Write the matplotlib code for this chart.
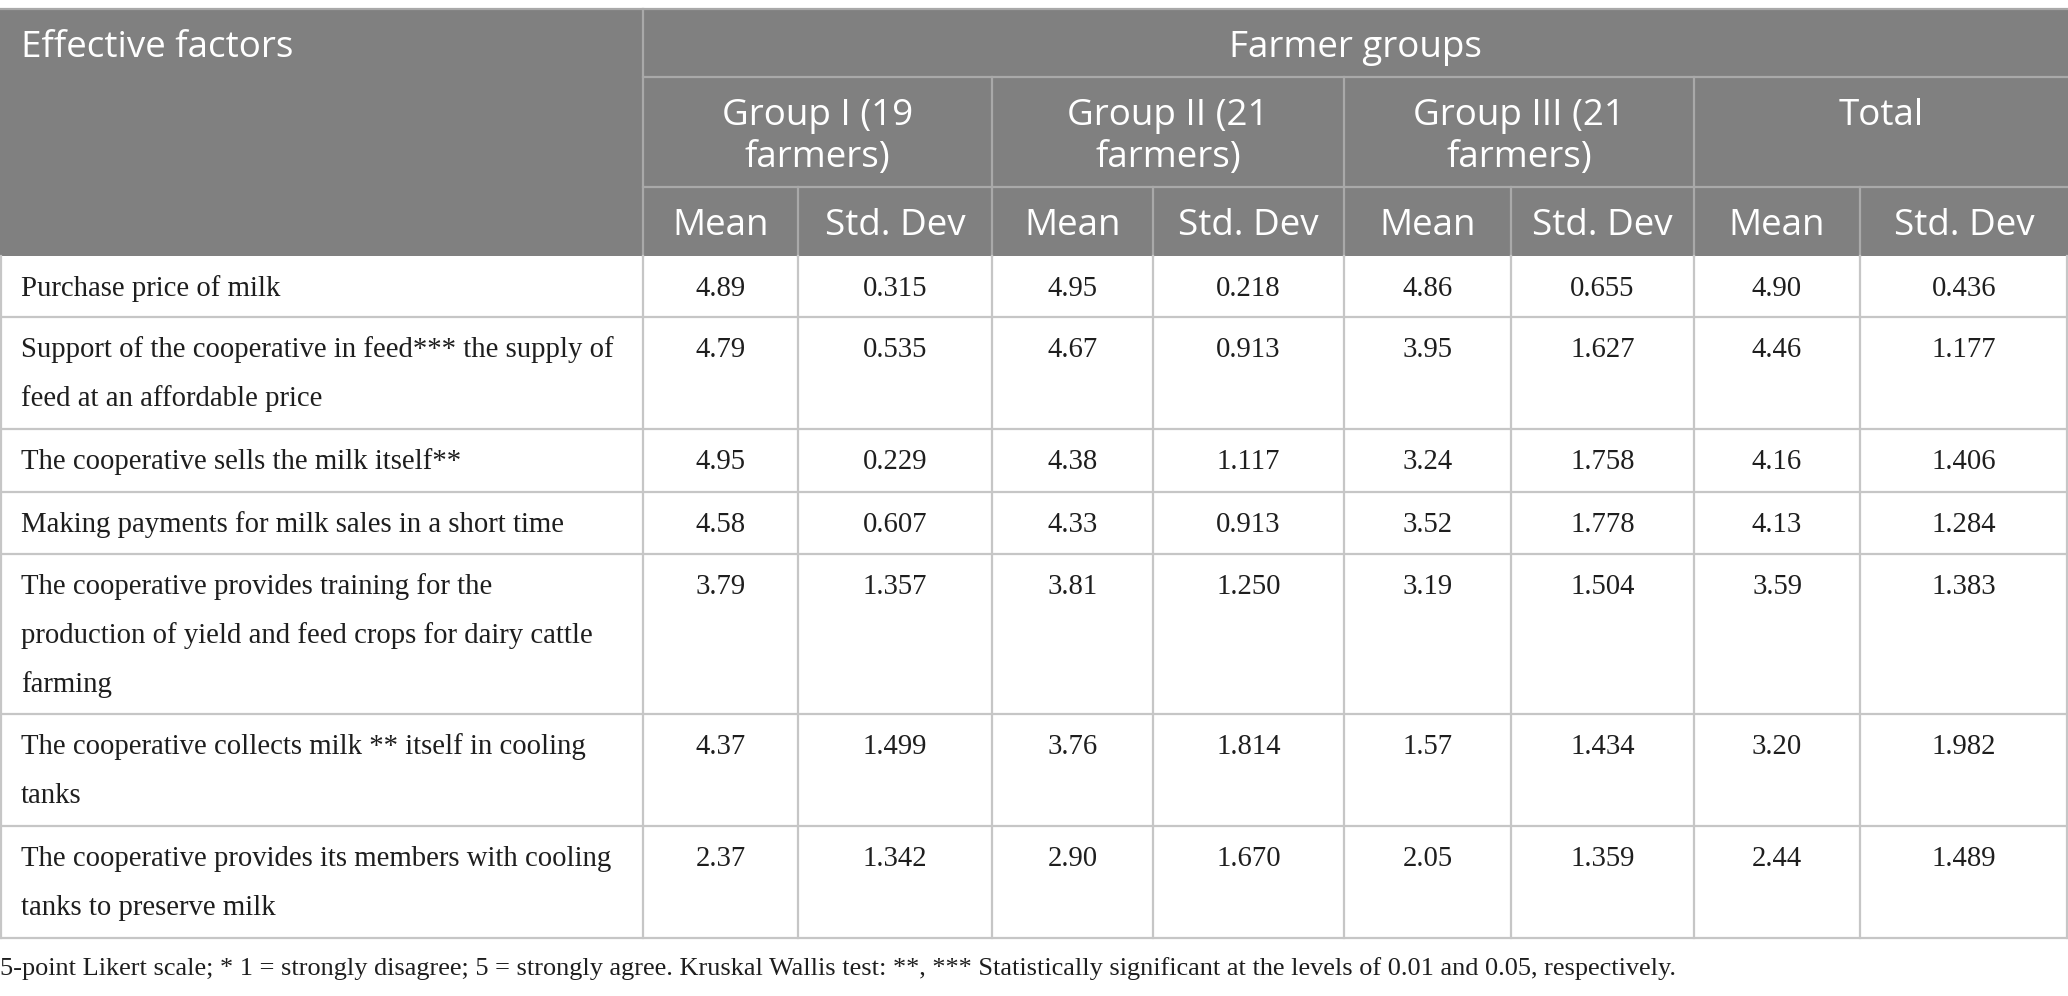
import matplotlib
matplotlib.use("Agg")
import matplotlib.pyplot as plt

# ---------------- data ----------------
factors = [
    "Purchase price of milk",
    "Support of the cooperative in feed*** the supply of\nfeed at an affordable price",
    "The cooperative sells the milk itself**",
    "Making payments for milk sales in a short time",
    "The cooperative provides training for the\nproduction of yield and feed crops for dairy cattle\nfarming",
    "The cooperative collects milk ** itself in cooling\ntanks",
    "The cooperative provides its members with cooling\ntanks to preserve milk",
]
group_labels = ["Group I (19\nfarmers)", "Group II (21\nfarmers)", "Group III (21\nfarmers)", "Total"]
stat_labels = ["Mean", "Std. Dev"]
g1_mean = ["4.89", "4.79", "4.95", "4.58", "3.79", "4.37", "2.37"]
g1_sd = ["0.315", "0.535", "0.229", "0.607", "1.357", "1.499", "1.342"]
g2_mean = ["4.95", "4.67", "4.38", "4.33", "3.81", "3.76", "2.90"]
g2_sd = ["0.218", "0.913", "1.117", "0.913", "1.250", "1.814", "1.670"]
g3_mean = ["4.86", "3.95", "3.24", "3.52", "3.19", "1.57", "2.05"]
g3_sd = ["0.655", "1.627", "1.758", "1.778", "1.504", "1.434", "1.359"]
tot_mean = ["4.90", "4.46", "4.16", "4.13", "3.59", "3.20", "2.44"]
tot_sd = ["0.436", "1.177", "1.406", "1.284", "1.383", "1.982", "1.489"]
header_first = "Effective factors"
header_span = "Farmer groups"
footnote = ("5-point Likert scale; * 1 = strongly disagree; 5 = strongly agree. "
            "Kruskal Wallis test: **, *** Statistically significant at the levels of 0.01 and 0.05, respectively.")

# ---------------- layout (pixels) ----------------
W, H = 2068, 996
col_edges = [0, 643, 798, 992, 1153, 1344, 1511, 1694, 1860, 2068]
head_edges = [9, 77, 187, 256]
row_edges = [256, 317, 429, 492, 554, 714, 826, 938]

HEAD_BG = "#808080"
HEAD_LINE = "#a9a9a9"
BODY_LINE = "#c6c6c6"
TXT = "#1e1e1e"
SANS = ["Open Sans", "DejaVu Sans"]
SERIF = ["Liberation Serif", "DejaVu Serif"]
HFS = 26.5
BFS = 20.7
LW = 1.6

fig = plt.figure(figsize=(W / 100, H / 100), dpi=100)
ax = fig.add_axes([0, 0, 1, 1])
ax.set_xlim(0, W)
ax.set_ylim(H, 0)
ax.axis("off")

# header background
ax.add_patch(plt.Rectangle((0, head_edges[0]), W, head_edges[-1] - head_edges[0],
                           facecolor=HEAD_BG, edgecolor="none", zorder=0))
# header lines
ax.plot([0, W], [head_edges[0], head_edges[0]], color=HEAD_LINE, lw=LW, zorder=1)
ax.plot([col_edges[1], W], [head_edges[1], head_edges[1]], color=HEAD_LINE, lw=LW, zorder=1)
ax.plot([col_edges[1], W], [head_edges[2], head_edges[2]], color=HEAD_LINE, lw=LW, zorder=1)
ax.plot([col_edges[1], col_edges[1]], [head_edges[0], head_edges[3]], color=HEAD_LINE, lw=LW, zorder=1)
for k in range(4):
    x0 = col_edges[1 + 2 * k]
    if k > 0:
        ax.plot([x0, x0], [head_edges[1], head_edges[3]], color=HEAD_LINE, lw=LW, zorder=1)
    xm = col_edges[2 + 2 * k]
    ax.plot([xm, xm], [head_edges[2], head_edges[3]], color=HEAD_LINE, lw=LW, zorder=1)

# header text
ax.text(21, head_edges[0] + 48, header_first, color="white", fontsize=HFS,
        family=SANS, ha="left", va="baseline")
ax.text((col_edges[1] + W) / 2, head_edges[0] + 48, header_span, color="white",
        fontsize=HFS, family=SANS, ha="center", va="baseline")
for k, lab in enumerate(group_labels):
    xc = (col_edges[1 + 2 * k] + col_edges[3 + 2 * k]) / 2
    lines = lab.split("\n")
    bases = [125, 167][:len(lines)]
    for ln, b in zip(lines, bases):
        ax.text(xc, b, ln, color="white", fontsize=HFS, family=SANS, ha="center", va="baseline")
    for j, s in enumerate(stat_labels):
        xs = (col_edges[1 + 2 * k + j] + col_edges[2 + 2 * k + j]) / 2
        ax.text(xs, 235, s, color="white", fontsize=HFS, family=SANS, ha="center", va="baseline")

# body lines
for y in row_edges[1:]:
    ax.plot([0, W], [y, y], color=BODY_LINE, lw=LW, zorder=1)
for x in col_edges:
    xx = min(max(x, 1), W - 1)
    ax.plot([xx, xx], [row_edges[0], row_edges[-1]], color=BODY_LINE, lw=LW, zorder=1)

# body text
cols = [g1_mean, g1_sd, g2_mean, g2_sd, g3_mean, g3_sd, tot_mean, tot_sd]
for i, fac in enumerate(factors):
    top = row_edges[i]
    for li, ln in enumerate(fac.split("\n")):
        ax.text(21, top + 40 + 49 * li, ln, color=TXT, fontsize=BFS, family=SERIF,
                ha="left", va="baseline")
    for c, vals in enumerate(cols):
        xc = (col_edges[1 + c] + col_edges[2 + c]) / 2
        ax.text(xc, top + 40, vals[i], color=TXT, fontsize=BFS, family=SERIF,
                ha="center", va="baseline")

ax.text(0, 975, footnote, color=TXT, fontsize=18.9, family=SERIF, ha="left", va="baseline")

fig.savefig("out.png", dpi=100, facecolor="white")
